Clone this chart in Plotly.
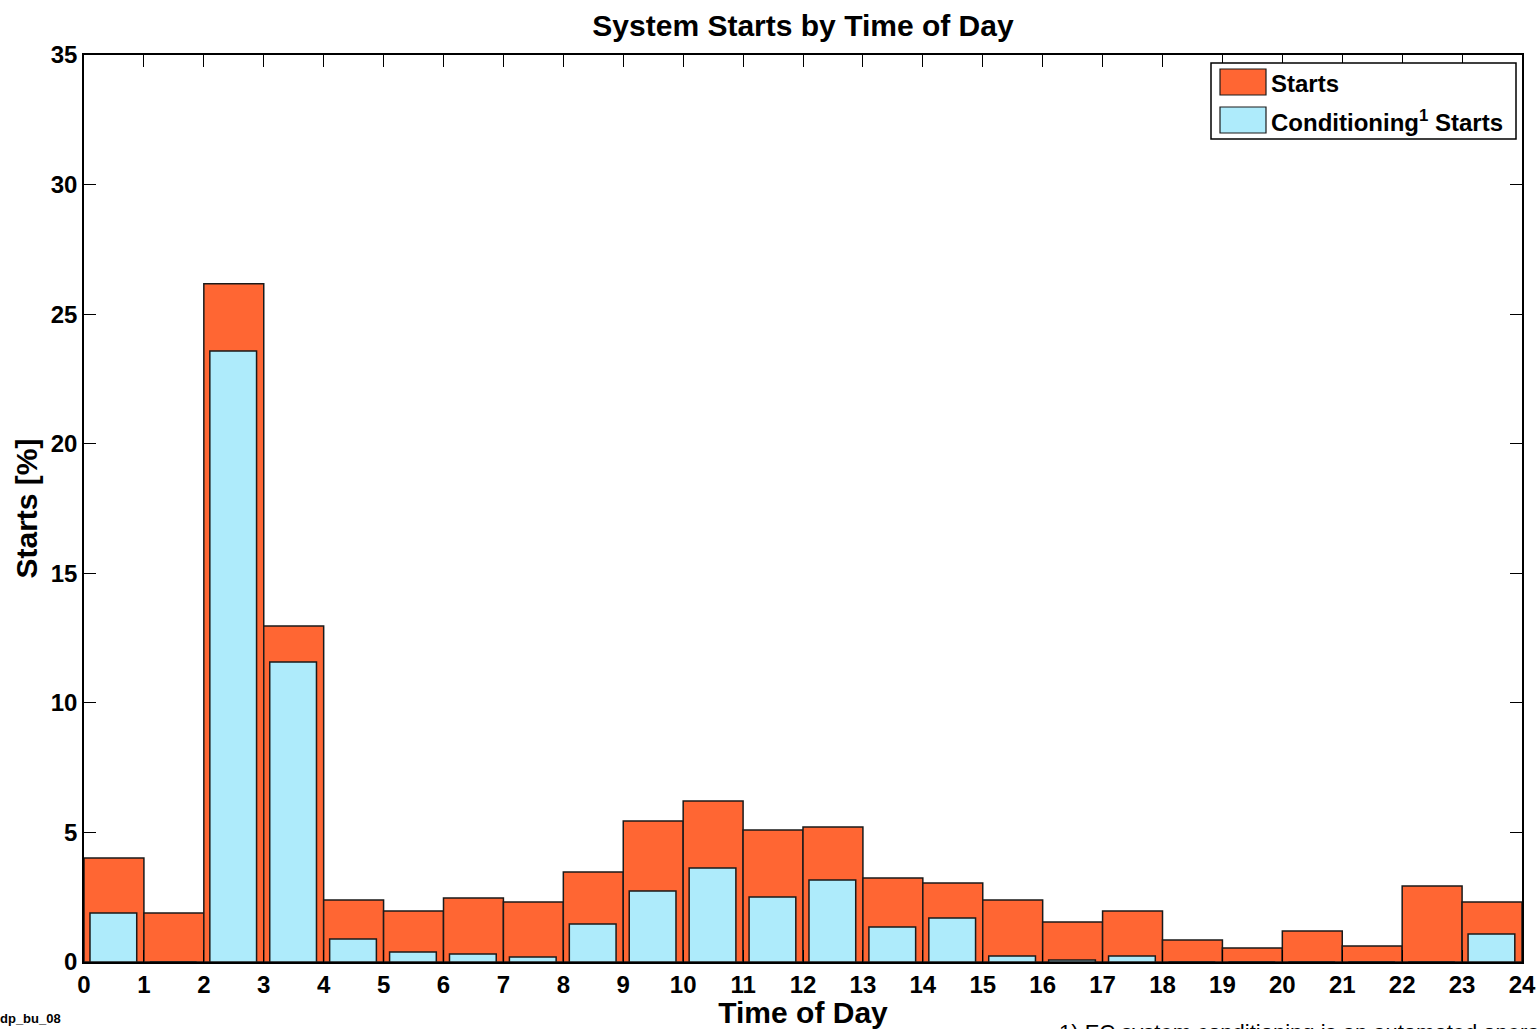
import plotly.graph_objects as go

hours = list(range(24))
starts = [4.01, 1.89, 26.17, 12.97, 2.39, 1.97, 2.47, 2.32, 3.47, 5.44, 6.21, 5.09,
          5.21, 3.24, 3.05, 2.39, 1.54, 1.97, 0.85, 0.54, 1.20, 0.62, 2.93, 2.32]
cond_starts = [1.89, 0.0, 23.58, 11.58, 0.89, 0.39, 0.31, 0.19, 1.47, 2.74, 3.63, 2.51,
               3.16, 1.35, 1.70, 0.23, 0.08, 0.23, 0.0, 0.0, 0.0, 0.0, 0.0, 1.08]
x_ticks = list(range(25))
y_ticks = [0, 5, 10, 15, 20, 25, 30, 35]
series_names = ["Starts", "Conditioning<sup>1</sup> Starts"]
series_colors = ["#FF6633", "#AEEBFB"]

FONT = "Arial, Liberation Sans, sans-serif"
W, H = 1539, 1029
L, R, T, B = 84, 17, 55, 67
pw, ph = W - L - R, H - T - B


def px(x):
    return (x - L) / pw


def py(y):
    return (T + ph - y) / ph


fig = go.Figure()
fig.add_trace(go.Bar(
    x=[h + 0.5 for h in hours], y=starts, width=1.0,
    name=series_names[0],
    marker=dict(color=series_colors[0], line=dict(color="#1a1a1a", width=1.5)),
))
fig.add_trace(go.Bar(
    x=[h + 0.49 for h in hours], y=cond_starts, width=0.78,
    name=series_names[1],
    marker=dict(color=series_colors[1], line=dict(color="#1a1a1a", width=1.5)),
))

# custom legend (box, swatches, labels)
shapes = [dict(type="rect", xref="paper", yref="paper", x0=px(1211), x1=px(1516),
               y0=py(139), y1=py(63), line=dict(color="black", width=1.5),
               fillcolor="white", layer="above")]
annotations = []
for i, (nm, col) in enumerate(zip(series_names, series_colors)):
    yc = 82 + i * 38
    shapes.append(dict(type="rect", xref="paper", yref="paper", x0=px(1220), x1=px(1266),
                       y0=py(yc + 13), y1=py(yc - 13), line=dict(color="#1a1a1a", width=1.2),
                       fillcolor=col, layer="above"))
    annotations.append(dict(text=f"<b>{nm}</b>", xref="paper", yref="paper",
                            x=px(1269), y=py(yc + 1), xanchor="left", yanchor="middle",
                            showarrow=False, font=dict(size=24, family=FONT)))

annotations += [
    dict(text="<b>dp_bu_08</b>", xref="paper", yref="paper",
         x=px(-2), y=py(1018), xanchor="left", yanchor="middle",
         showarrow=False, font=dict(size=13, family=FONT)),
    dict(text="1) EC system conditioning is an automated operation", xref="paper", yref="paper",
         x=px(1057), y=py(1032), xanchor="left", yanchor="middle",
         showarrow=False, font=dict(size=22, family=FONT)),
]

fig.update_layout(
    width=W, height=H,
    barmode="overlay",
    margin=dict(l=L, r=R, t=T, b=B, pad=0, autoexpand=False),
    paper_bgcolor="white", plot_bgcolor="white",
    font=dict(family=FONT, color="black"),
    title=dict(text="<b>System Starts by Time of Day</b>", x=(L + pw / 2) / W, xanchor="center",
               y=1 - 25 / H, yanchor="middle", font=dict(size=30, family=FONT)),
    showlegend=False,
    xaxis=dict(range=[0, 24], tickvals=x_ticks, ticktext=[f"<b>{t}</b>" for t in x_ticks],
               ticks="inside", ticklen=12, tickwidth=1, tickcolor="black",
               showline=True, linecolor="black", linewidth=1.5, mirror="ticks",
               showgrid=False, zeroline=False, automargin=False,
               tickfont=dict(size=24, family=FONT),
               title=dict(text="<b>Time of Day</b>", font=dict(size=30, family=FONT), standoff=6)),
    yaxis=dict(range=[0, 35], tickvals=y_ticks, ticktext=[f"<b>{t}</b>" for t in y_ticks],
               ticks="inside", ticklen=12, tickwidth=1, tickcolor="black",
               showline=True, linecolor="black", linewidth=1.5, mirror="ticks",
               showgrid=False, zeroline=False, automargin=False,
               tickfont=dict(size=24, family=FONT),
               title=dict(text="<b>Starts [%]</b>", font=dict(size=30, family=FONT), standoff=4)),
    shapes=shapes,
    annotations=annotations,
)

fig.write_html("out.html", config={"displayModeBar": False},
               post_script="document.body.style.margin='0';document.body.style.padding='0';"
                           "document.body.style.overflow='hidden';")
